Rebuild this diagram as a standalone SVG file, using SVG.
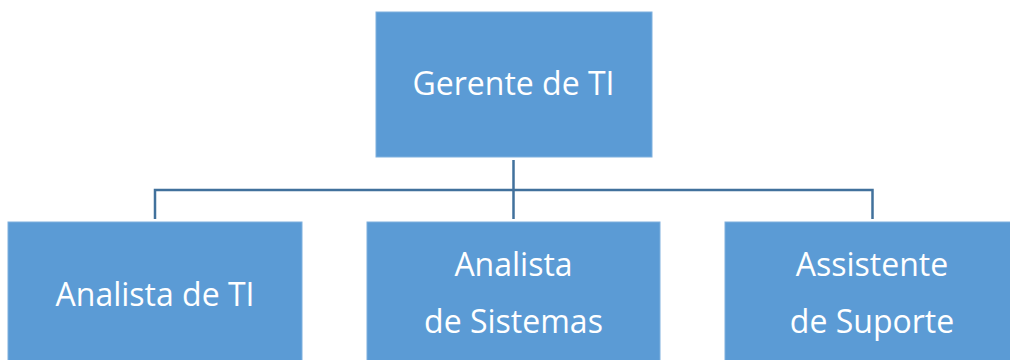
<svg xmlns="http://www.w3.org/2000/svg" width="1010" height="360" viewBox="0 0 1010 360">
<style>
.box{fill:#5B9BD5;stroke:#7FB0DE;stroke-width:1}
.lbl{font-family:"Open Sans","Noto Sans",sans-serif;font-size:32px;fill:#FFFFFF;text-anchor:middle}
.conn{fill:none;stroke:#41719C;stroke-width:2.5}
</style>
<rect width="1010" height="360" fill="#FFFFFF"/>
<g id="connectors">
<path class="conn" d="M513.5,160 V219"/>
<path class="conn" d="M155,219 V190 H872.5 V219"/>
</g>
<g id="gerente">
<rect class="box" x="376" y="12" width="276" height="145"/>
<text class="lbl" x="513.5" y="95">Gerente de TI</text>
</g>
<g id="analista-ti">
<rect class="box" x="8" y="222" width="294" height="150"/>
<text class="lbl" x="155" y="306">Analista de TI</text>
</g>
<g id="analista-sistemas">
<rect class="box" x="367" y="222" width="293" height="150"/>
<text class="lbl" x="513.5" y="276">Analista</text>
<text class="lbl" x="513.5" y="333">de Sistemas</text>
</g>
<g id="assistente">
<rect class="box" x="725" y="222" width="294" height="150"/>
<text class="lbl" x="872" y="276">Assistente</text>
<text class="lbl" x="872" y="333">de Suporte</text>
</g>
</svg>
